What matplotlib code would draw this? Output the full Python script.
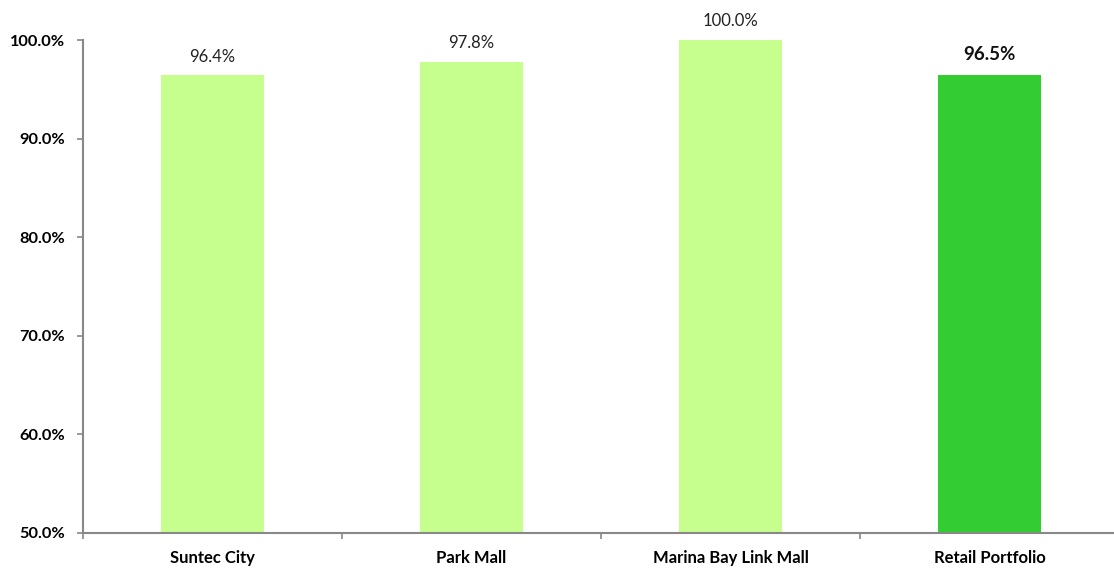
import matplotlib.pyplot as plt
from matplotlib import ticker

plt.rcParams['font.family'] = ['Lato', 'DejaVu Sans']

categories = ['Suntec City', 'Park Mall', 'Marina Bay Link Mall', 'Retail Portfolio']
occupancy = [96.4, 97.8, 100.0, 96.5]
colors = ['#C6FF8E', '#C6FF8E', '#C6FF8E', '#33CC33']
yticks = [50, 60, 70, 80, 90, 100]

fig = plt.figure(figsize=(11.14, 5.7), dpi=100)
ax = fig.add_axes([83 / 1114, 37 / 570, 1036 / 1114, 493 / 570])

x = list(range(len(categories)))
ax.bar(x, occupancy, width=0.4, color=colors)

for i, v in enumerate(occupancy):
    if i == len(occupancy) - 1:
        ax.text(i, v + 1.2, '{:.1f}%'.format(v), ha='center', va='bottom',
                fontsize=13.5, fontweight='bold', color='#111111')
    else:
        ax.text(i, v + 1.1, '{:.1f}%'.format(v), ha='center', va='bottom',
                fontsize=12, color='#222222')

ax.set_xlim(-0.5, 3.5)
ax.set_ylim(50, 100)
ax.set_yticks(yticks)
ax.yaxis.set_major_formatter(ticker.FuncFormatter(lambda v, p: '{:.1f}%'.format(v)))

ax.set_xticks([-0.5, 0.5, 1.5, 2.5, 3.5])
ax.set_xticklabels([])
ax.set_xticks(x, minor=True)
ax.set_xticklabels(categories, minor=True, fontsize=12, fontweight='bold')
ax.tick_params(axis='x', which='minor', length=0, pad=12)
ax.tick_params(axis='x', which='major', length=4.5, color='#888888', width=1.2)
ax.tick_params(axis='y', length=4.5, color='#888888', width=1.2, pad=8.5,
               labelsize=11.8)
for lab in ax.get_yticklabels():
    lab.set_fontweight('bold')

for s in ['top', 'right']:
    ax.spines[s].set_visible(False)
for s in ['left', 'bottom']:
    ax.spines[s].set_color('#888888')
    ax.spines[s].set_linewidth(1.5)

fig.savefig('out.png', dpi=100)
